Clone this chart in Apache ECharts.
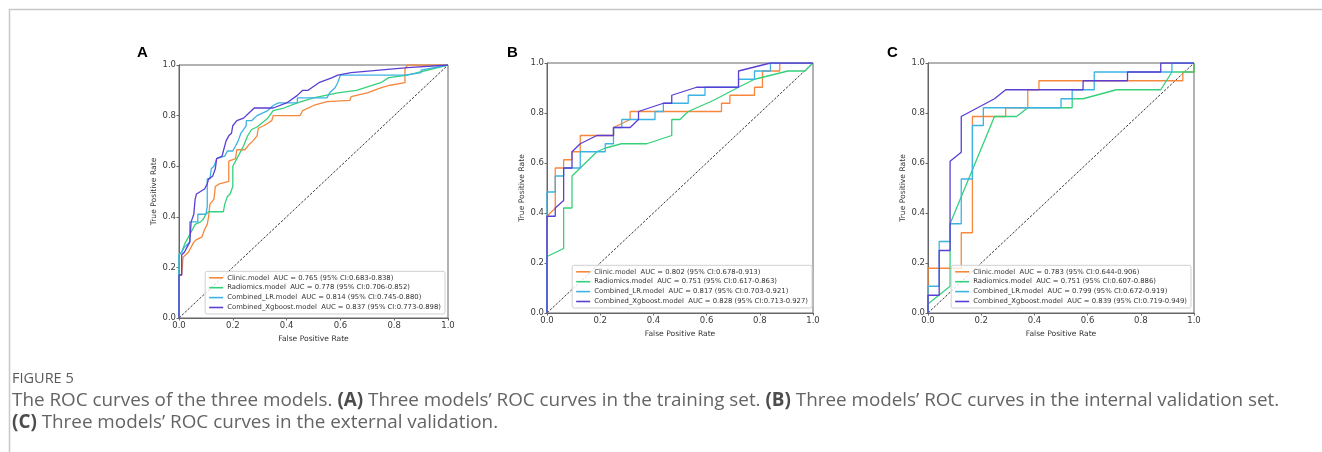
<!DOCTYPE html>
<html>
<head>
<meta charset="utf-8">
<script src="https://cdn.jsdelivr.net/npm/echarts@6/dist/echarts.min.js"></script>
<style>
html,body{margin:0;padding:0;background:#fff;}
#c{width:1322px;height:452px;}
</style>
</head>
<body>
<div id="c"></div>
<script>
// ---------- DATA ----------
const tickValues = [0.0, 0.2, 0.4, 0.6, 0.8, 1.0];
const modelNames = ['Clinic.model', 'Radiomics.model', 'Combined_LR.model', 'Combined_Xgboost.model'];
const panelLetters = ['A', 'B', 'C'];

// AUC text per panel (order: Clinic, Radiomics, LR, Xgboost)
const aucA = ['AUC = 0.765 (95% CI:0.683-0.838)', 'AUC = 0.778 (95% CI:0.706-0.852)', 'AUC = 0.814 (95% CI:0.745-0.880)', 'AUC = 0.837 (95% CI:0.773-0.898)'];
const aucB = ['AUC = 0.802 (95% CI:0.678-0.913)', 'AUC = 0.751 (95% CI:0.617-0.863)', 'AUC = 0.817 (95% CI:0.703-0.921)', 'AUC = 0.828 (95% CI:0.713-0.927)'];
const aucC = ['AUC = 0.783 (95% CI:0.644-0.906)', 'AUC = 0.751 (95% CI:0.607-0.886)', 'AUC = 0.799 (95% CI:0.672-0.919)', 'AUC = 0.839 (95% CI:0.719-0.949)'];

const diagonal = [[0, 0], [1, 1]];

// Panel A (training set) ROC points [FPR, TPR]
const A_clinic = [[0,0],[0,0.17],[0.01,0.17],[0.015,0.24],[0.035,0.26],[0.045,0.28],[0.055,0.30],[0.065,0.31],[0.085,0.32],[0.095,0.35],[0.105,0.37],[0.11,0.40],[0.115,0.45],[0.13,0.47],[0.135,0.52],[0.15,0.53],[0.185,0.54],[0.185,0.62],[0.21,0.63],[0.215,0.665],[0.245,0.665],[0.26,0.685],[0.275,0.70],[0.29,0.72],[0.295,0.75],[0.315,0.76],[0.345,0.78],[0.35,0.80],[0.45,0.80],[0.46,0.82],[0.5,0.84],[0.55,0.855],[0.635,0.86],[0.64,0.875],[0.70,0.89],[0.75,0.91],[0.785,0.92],[0.84,0.93],[0.84,0.985],[0.85,1.0],[1,1]];
const A_radiomics = [[0,0],[0,0.25],[0.01,0.26],[0.02,0.29],[0.04,0.33],[0.05,0.35],[0.06,0.37],[0.08,0.38],[0.09,0.39],[0.1,0.41],[0.11,0.42],[0.165,0.42],[0.17,0.45],[0.18,0.48],[0.19,0.49],[0.2,0.52],[0.2,0.60],[0.215,0.63],[0.24,0.68],[0.255,0.72],[0.27,0.745],[0.29,0.755],[0.33,0.79],[0.35,0.82],[0.39,0.83],[0.44,0.85],[0.5,0.87],[0.59,0.89],[0.66,0.90],[0.75,0.93],[0.78,0.95],[0.85,0.96],[1,1]];
const A_lr = [[0,0],[0,0.25],[0.01,0.26],[0.02,0.28],[0.04,0.30],[0.04,0.38],[0.07,0.38],[0.07,0.41],[0.1,0.41],[0.105,0.44],[0.105,0.55],[0.115,0.55],[0.12,0.59],[0.13,0.60],[0.14,0.63],[0.17,0.64],[0.18,0.66],[0.2,0.66],[0.21,0.68],[0.22,0.70],[0.23,0.73],[0.25,0.76],[0.25,0.78],[0.27,0.78],[0.29,0.80],[0.31,0.81],[0.33,0.82],[0.35,0.84],[0.37,0.85],[0.44,0.85],[0.44,0.87],[0.55,0.87],[0.56,0.89],[0.58,0.91],[0.59,0.93],[0.6,0.96],[0.84,0.96],[0.9,0.97],[0.9,0.98],[1,1]];
const A_xgb = [[0,0],[0,0.17],[0.01,0.17],[0.01,0.25],[0.02,0.26],[0.03,0.28],[0.04,0.30],[0.045,0.38],[0.055,0.41],[0.06,0.47],[0.065,0.49],[0.08,0.50],[0.095,0.51],[0.105,0.53],[0.11,0.55],[0.125,0.56],[0.135,0.59],[0.14,0.63],[0.16,0.64],[0.165,0.66],[0.175,0.70],[0.185,0.72],[0.195,0.73],[0.2,0.76],[0.215,0.78],[0.24,0.79],[0.26,0.81],[0.28,0.83],[0.35,0.83],[0.4,0.85],[0.44,0.88],[0.46,0.90],[0.48,0.90],[0.52,0.93],[0.57,0.95],[0.59,0.96],[0.64,0.97],[0.85,0.99],[1,1]];

// Panel B (internal validation set)
const B_clinic = [[0,0],[0,0.387],[0.031,0.42],[0.031,0.58],[0.0625,0.58],[0.0625,0.613],[0.094,0.613],[0.094,0.645],[0.125,0.645],[0.125,0.71],[0.19,0.71],[0.25,0.71],[0.25,0.742],[0.3125,0.774],[0.3125,0.806],[0.656,0.806],[0.656,0.839],[0.6875,0.839],[0.6875,0.871],[0.78,0.871],[0.78,0.903],[0.81,0.903],[0.81,0.968],[0.875,0.968],[0.875,1.0],[1,1]];
const B_radiomics = [[0,0],[0,0.226],[0.0625,0.258],[0.0625,0.42],[0.094,0.42],[0.094,0.548],[0.125,0.58],[0.1875,0.645],[0.22,0.66],[0.28,0.677],[0.375,0.677],[0.469,0.71],[0.469,0.774],[0.5,0.774],[0.531,0.806],[0.625,0.85],[0.72,0.903],[0.78,0.935],[0.906,0.968],[0.97,0.968],[1,1]];
const B_lr = [[0,0],[0,0.484],[0.031,0.484],[0.031,0.548],[0.0625,0.548],[0.0625,0.58],[0.125,0.58],[0.125,0.645],[0.219,0.645],[0.219,0.677],[0.25,0.677],[0.25,0.742],[0.281,0.742],[0.281,0.774],[0.406,0.774],[0.406,0.806],[0.4375,0.806],[0.4375,0.839],[0.531,0.839],[0.531,0.871],[0.594,0.871],[0.594,0.903],[0.72,0.903],[0.72,0.935],[0.78,0.935],[0.78,0.968],[0.84,0.968],[0.84,1.0],[1,1]];
const B_xgb = [[0,0],[0,0.387],[0.031,0.387],[0.031,0.42],[0.0625,0.45],[0.0625,0.58],[0.094,0.58],[0.094,0.645],[0.125,0.677],[0.1875,0.71],[0.25,0.71],[0.25,0.742],[0.3125,0.742],[0.344,0.774],[0.344,0.806],[0.4375,0.839],[0.469,0.839],[0.469,0.871],[0.5625,0.903],[0.72,0.903],[0.72,0.968],[0.84,1.0],[1,1]];

// Panel C (external validation)
const C_clinic = [[0,0],[0,0.179],[0.125,0.179],[0.125,0.321],[0.167,0.321],[0.167,0.786],[0.292,0.786],[0.292,0.821],[0.375,0.821],[0.375,0.893],[0.417,0.893],[0.417,0.929],[0.958,0.929],[0.958,0.964],[1,0.964],[1,1]];
const C_radiomics = [[0,0],[0,0.036],[0.083,0.107],[0.083,0.357],[0.25,0.786],[0.333,0.786],[0.375,0.821],[0.542,0.821],[0.542,0.857],[0.583,0.857],[0.708,0.893],[0.875,0.893],[0.917,0.964],[1,0.964],[1,1]];
const C_lr = [[0,0],[0,0.107],[0.042,0.107],[0.042,0.286],[0.083,0.286],[0.083,0.357],[0.125,0.357],[0.125,0.536],[0.167,0.536],[0.167,0.75],[0.208,0.75],[0.208,0.821],[0.5,0.821],[0.5,0.857],[0.542,0.857],[0.542,0.893],[0.625,0.893],[0.625,0.964],[0.917,0.964],[0.917,1.0],[1,1]];
const C_xgb = [[0,0],[0,0.071],[0.042,0.071],[0.042,0.25],[0.083,0.25],[0.083,0.607],[0.125,0.643],[0.125,0.786],[0.25,0.857],[0.292,0.893],[0.583,0.893],[0.583,0.929],[0.75,0.929],[0.75,0.964],[0.875,0.964],[0.875,1.0],[1,1]];

const captionHead = 'FIGURE 5';
const captionLead = 'The ROC curves of the three models. ';
const captionLine1 = ['(A)', ' Three models’ ROC curves in the training set. ', '(B)', ' Three models’ ROC curves in the internal validation set.'];
const captionLine2 = ['(C)', ' Three models’ ROC curves in the external validation.'];

// ---------- BUILD ----------
const colors = ['#f5883c', '#34d17b', '#3db2e3', '#5b3ed3'];
const panels = [
  { auc: aucA, data: [A_clinic, A_radiomics, A_lr, A_xgb], grid: { left: 179, top: 65, width: 269, height: 253 }, legend: { right: 877, bottom: 138 }, letter: { left: 132, top: 40 } },
  { auc: aucB, data: [B_clinic, B_radiomics, B_lr, B_xgb], grid: { left: 547, top: 63, width: 266, height: 250 }, legend: { right: 510, bottom: 144 }, letter: { left: 502, top: 40 } },
  { auc: aucC, data: [C_clinic, C_radiomics, C_lr, C_xgb], grid: { left: 928, top: 63, width: 266, height: 250 }, legend: { right: 131, bottom: 144 }, letter: { left: 882, top: 40 } }
];

const grids = [], xAxes = [], yAxes = [], series = [], legends = [], titles = [];
const axisColor = '#666';
const tickFmt = v => v.toFixed(1);

panels.forEach((p, i) => {
  grids.push(Object.assign({ show: true, borderColor: axisColor, borderWidth: 1, containLabel: false }, p.grid));
  const common = {
    type: 'value', min: 0, max: 1, interval: 0.2, gridIndex: i,
    splitLine: { show: false },
    axisLine: { show: true, lineStyle: { color: axisColor, width: 1 } },
    axisTick: { show: true, inside: false, length: 2.5, lineStyle: { color: axisColor } },
    axisLabel: { formatter: tickFmt, fontSize: 8.5, color: '#3a3a3a', fontFamily: 'DejaVu Sans', margin: 3 },
    nameLocation: 'middle',
    nameTextStyle: { fontSize: 7.6, color: '#333', fontFamily: 'DejaVu Sans' }
  };
  xAxes.push(Object.assign({}, common, { name: 'False Positive Rate', nameGap: 17 }));
  yAxes.push(Object.assign({}, common, { name: 'True Positive Rate', nameGap: 21 }));

  series.push({
    type: 'line', name: 'diag' + i, xAxisIndex: i, yAxisIndex: i, data: diagonal,
    symbol: 'none', silent: true, z: 1,
    lineStyle: { color: '#222', width: 0.9, type: [2.5, 1.5] }
  });
  const names = [];
  p.data.forEach((d, k) => {
    const nm = modelNames[k] + '  ' + p.auc[k];
    names.push(nm);
    series.push({
      type: 'line', name: nm, xAxisIndex: i, yAxisIndex: i, data: d,
      symbol: 'none', z: 2 + k, color: colors[k],
      lineStyle: { color: colors[k], width: 1.3 }
    });
  });
  legends.push({
    data: names, orient: 'vertical', right: p.legend.right, bottom: p.legend.bottom,
    icon: 'rect', itemWidth: 14, itemHeight: 1.6, itemGap: 2.9,
    padding: [3, 4, 3, 4], borderColor: '#d0d0d0', borderWidth: 1, borderRadius: 2,
    backgroundColor: 'rgba(255,255,255,0.8)',
    textStyle: { fontSize: 6.85, color: '#333', fontFamily: 'DejaVu Sans', padding: [0, 0, 0, -1] },
    selectedMode: false
  });
  titles.push({
    text: panelLetters[i], left: p.letter.left, top: p.letter.top,
    textStyle: { fontSize: 15, fontWeight: 'bold', color: '#000', fontFamily: 'Liberation Sans' }
  });
});

const capFont = 'Open Sans';
const capSize = 18.85;
const rich = {
  n: { fontSize: capSize, color: '#646464', fontFamily: capFont, fontWeight: 'normal' },
  b: { fontSize: capSize, color: '#4d4d4d', fontFamily: capFont, fontWeight: 'bold' }
};
titles.push({ text: captionHead, left: 7, top: 366, textStyle: { fontSize: 14.5, color: '#5a5a5a', fontFamily: capFont, fontWeight: 'normal' } });
titles.push({
  text: '{n|' + captionLead + '}{b|' + captionLine1[0] + '}{n|' + captionLine1[1] + '}{b|' + captionLine1[2] + '}{n|' + captionLine1[3] + '}',
  left: 7, top: 386, textStyle: { fontWeight: 'normal', rich: rich }
});
titles.push({
  text: '{b|' + captionLine2[0] + '}{n|' + captionLine2[1] + '}',
  left: 7, top: 408, textStyle: { fontWeight: 'normal', rich: rich }
});

const chart = echarts.init(document.getElementById('c'), null, { renderer: 'canvas' });
chart.setOption({
  backgroundColor: '#fff',
  animation: false,
  title: titles,
  grid: grids,
  xAxis: xAxes,
  yAxis: yAxes,
  legend: legends,
  series: series,
  graphic: [
    { type: 'line', shape: { x1: 9, y1: 9.5, x2: 1322, y2: 9.5 }, style: { stroke: '#c8c8c8', lineWidth: 1.5 }, silent: true },
    { type: 'line', shape: { x1: 9.5, y1: 9, x2: 9.5, y2: 452 }, style: { stroke: '#c8c8c8', lineWidth: 1.5 }, silent: true }
  ]
});
</script>
</body>
</html>
